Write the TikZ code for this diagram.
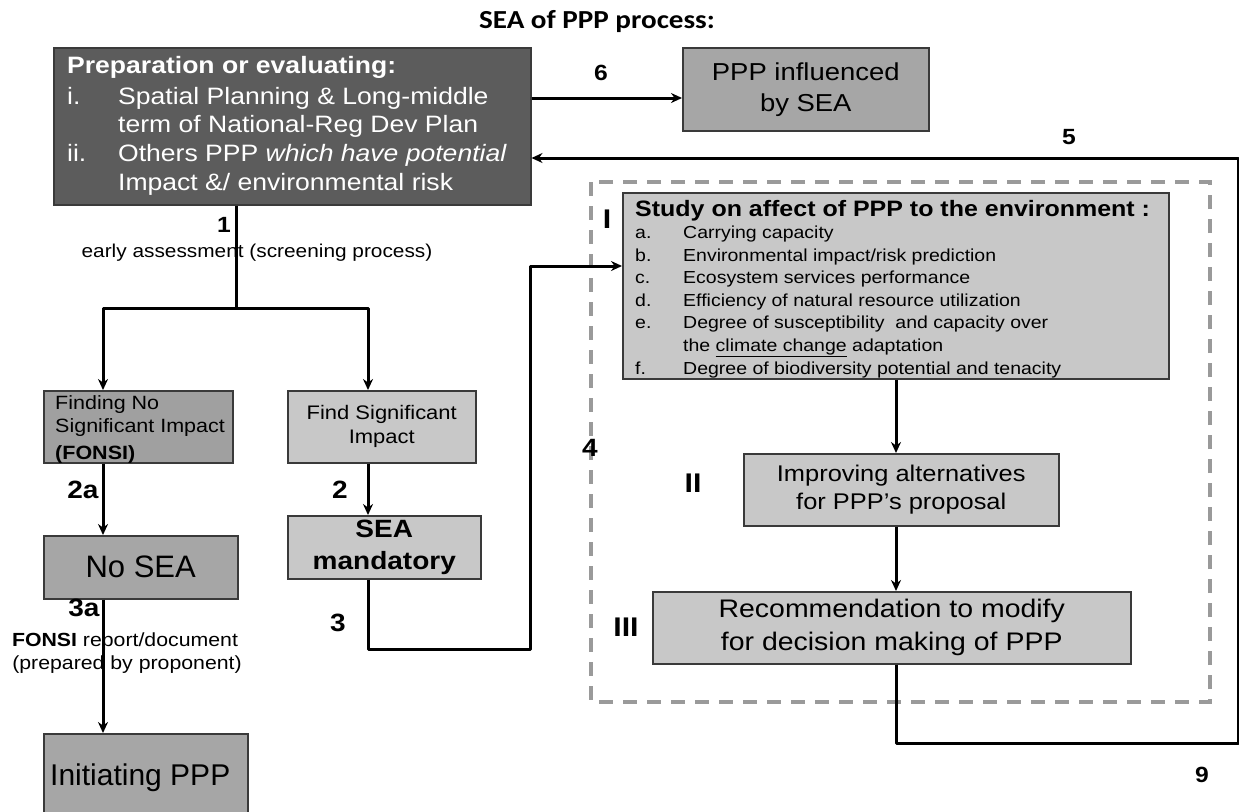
\documentclass[tikz,border=0pt]{standalone}
\usepackage{fontspec}
\setmainfont[FakeStretch=1.12]{Liberation Sans}
\newfontfamily\flatsans{Liberation Sans}
\newfontfamily\titlefont[FakeStretch=1.12]{Carlito}
\usetikzlibrary{arrows.meta}
\newcommand\fsz[1]{\fontsize{#1}{#1}\selectfont}
\newcommand\fszl[2]{\fontsize{#1}{#2}\selectfont}
\definecolor{prepgray}{HTML}{5C5C5C}
\definecolor{midgray}{HTML}{A6A6A6}
\definecolor{darkmid}{HTML}{A0A0A0}
\definecolor{lightgray}{HTML}{C8C8C8}
\definecolor{boxedge}{HTML}{3A3A3A}
\definecolor{dashgray}{HTML}{9A9A9A}

\begin{document}
\begin{tikzpicture}[x=1pt,y=-1pt,
  box/.style={draw=boxedge, line width=1.5pt, inner sep=0pt, anchor=north west, align=center},
  darkbox/.style={box, fill=prepgray},
  midbox/.style={box, fill=midgray},
  lightbox/.style={box, fill=lightgray},
  link/.style={draw=black, line width=3pt, line join=round},
  linkarrow/.style={link, -{Stealth[length=11pt,width=10pt]}},
  num/.style={font=\fsz{22}\bfseries, inner sep=0pt},
  bignum/.style={font=\fsz{25}\bfseries, inner sep=0pt},
  roman/.style={font=\fsz{27}\bfseries, inner sep=0pt},
  txt/.style={inner sep=0pt, anchor=base west},
  frame/.style={draw=dashgray, line width=3.5pt, dash pattern=on 14pt off 10pt}
]
\useasboundingbox (0,0) rectangle (1239,811);

% title
\node[font=\titlefont\fsz{26}\bfseries, inner sep=0pt] (title) at (597,22) {SEA of PPP process:};

% dashed frame around the study stage
\draw[frame] (591,182) rectangle (1210,702);

% boxes
\node[darkbox, minimum width=477pt, minimum height=157pt] (prep) at (53,47) {};
\node[midbox, minimum width=246pt, minimum height=83pt, font=\fszl{24.5}{31}] (infl) at (682,47)
  {PPP influenced\\by SEA};
\node[lightbox, minimum width=546pt, minimum height=186pt] (study) at (622,192) {};
\node[box, fill=darkmid, minimum width=189pt, minimum height=72pt] (fonsi) at (43,390) {};
\node[lightbox, minimum width=188pt, minimum height=72pt, font=\fszl{19.6}{24}] (findsig) at (287,390)
  {Find Significant\\Impact};
\node[midbox, minimum width=194pt, minimum height=63pt, font=\flatsans\fsz{31}] (nosea) at (43,535)
  {No SEA};
\node[lightbox, minimum width=193pt, minimum height=63pt, font=\fszl{25}{32}\bfseries] (seamand) at (287,515)
  {SEA\\mandatory};
\node[midbox, minimum width=204pt, minimum height=90pt] (init) at (43,733) {};
\node[lightbox, minimum width=315pt, minimum height=72pt, font=\fszl{22.7}{28}] (improv) at (743,453)
  {Improving alternatives\\for PPP’s proposal};
\node[lightbox, minimum width=478pt, minimum height=72pt, font=\fszl{25.4}{33}] (recom) at (652,591)
  {Recommendation to modify\\for decision making of PPP};

% text of the first box
\begin{scope}[every node/.style={txt, text=white, font=\fsz{23.7}}]
  \node (prepA) at (67,73.5) {\bfseries Preparation or evaluating:};
  \node (prepB) at (67,104.5) {i.};
  \node (prepC) at (118,104.5) {Spatial Planning \& Long-middle};
  \node (prepD) at (118,132.5) {term of National-Reg Dev Plan};
  \node (prepE) at (67,161.5) {ii.};
  \node (prepF) at (118,161.5) {Others PPP \itshape which have potential};
  \node (prepG) at (118,190.5) {Impact \&/ environmental risk};
\end{scope}

% text of the study box
\node[txt, font=\fsz{22.3}\bfseries] (studyT) at (635,216) {Study on affect of PPP to the environment :};
\begin{scope}[every node/.style={txt, font=\fsz{17.4}}]
  \foreach \l/\t [count=\i from 0] in {a./{Carrying capacity},
      b./{Environmental impact/risk prediction},
      c./{Ecosystem services performance},
      d./{Efficiency of natural resource utilization},
      e./{Degree of susceptibility \ and capacity over},
      /{the \underline{climate change} adaptation},
      f./{Degree of biodiversity potential and tenacity}}{
    \node (studyL\i) at (635,{238.5+22.6*\i}) {\l};
    \node (studyI\i) at (683,{238.5+22.6*\i}) {\t};
  }
\end{scope}

% text of the FONSI box
\begin{scope}[every node/.style={txt, font=\fsz{19.2}}]
  \node (fonsiA) at (55,409) {Finding No};
  \node (fonsiB) at (55,432) {Significant Impact};
  \node (fonsiC) at (55,459) {\bfseries (FONSI)};
\end{scope}
\node[font=\flatsans\fsz{30}, inner sep=0pt, anchor=base west] (initT) at (50,785) {Initiating PPP};

% step labels
\node[num] (n6) at (601,73) {6};
\node[num] (n5) at (1069,137) {5};
\node[num] (n1) at (224,225) {1};
\node[bignum] (n2a) at (83,490) {2a};
\node[bignum] (n2) at (340,490) {2};
\node[bignum] (n3a) at (84,608) {3a};
\node[bignum] (n3) at (338,623) {3};
\node[bignum] (n4) at (590,448) {4};
\node[font=\fsz{22}\bfseries, inner sep=0pt] (n9) at (1202,775) {9};
\node[roman] (rI) at (607,219) {I};
\node[roman] (rII) at (693,483) {II};
\node[roman] (rIII) at (626,627) {III};

% connector annotations
\node[font=\fsz{18.6}, inner sep=0pt] (early) at (257,253) {early assessment (screening process)};
\node[font=\fsz{19}, inner sep=0pt] (fonsiR1) at (125,642) {\bfseries FONSI\mdseries\ report/document};
\node[font=\fsz{19}, inner sep=0pt] (fonsiR2) at (127,665) {(prepared by proponent)};

% connectors
\coordinate (split) at (236,308);
\coordinate (c3a) at (368,649);
\coordinate (c3b) at (530,266);
\coordinate (c5a) at (896,743);
\coordinate (c5b) at (1238,158);

\draw[link] (prep.south -| split) -- (split);
\draw[linkarrow] (split) -| ([xshift=60pt]fonsi.north west);
\draw[linkarrow] (split) -| ([xshift=81pt]findsig.north west);
\draw[linkarrow] ([xshift=60pt]fonsi.south west) -- ([xshift=60pt]nosea.north west);
\draw[linkarrow] ([xshift=81pt]findsig.south west) -- ([xshift=81pt]seamand.north west);
\draw[linkarrow] ([xshift=60pt]nosea.south west) -- ([xshift=60pt]init.north west);
\draw[linkarrow] ([xshift=81pt]seamand.south west) -- (c3a) -| (c3b) -- (c3b -| study.west);
\draw[linkarrow] ([yshift=-51pt]prep.north east) -- ([yshift=-51pt]infl.north west);
\draw[linkarrow] (study.south -| c5a) -- (improv.north -| c5a);
\draw[linkarrow] (improv.south -| c5a) -- (recom.north -| c5a);
\draw[linkarrow] (recom.south -| c5a) -- (c5a) -| (c5b) -- (c5b -| prep.east);
\end{tikzpicture}
\end{document}
